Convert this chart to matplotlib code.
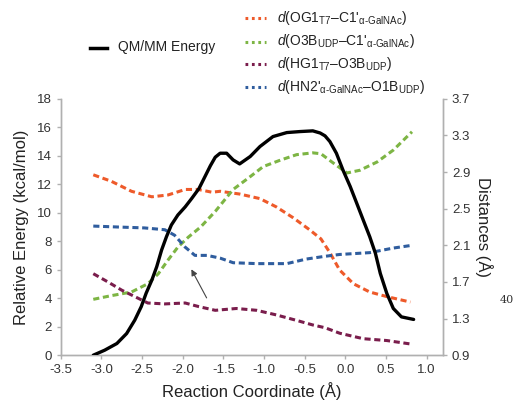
import numpy as np
import matplotlib
matplotlib.use('Agg')
import matplotlib.pyplot as plt
from matplotlib.lines import Line2D

plt.rcParams['font.family'] = ['Liberation Sans', 'DejaVu Sans']
plt.rcParams['mathtext.fontset'] = 'custom'
plt.rcParams['mathtext.rm'] = 'Liberation Sans'
plt.rcParams['mathtext.it'] = 'Liberation Sans:italic'

# QM/MM energy profile (kcal/mol)
x_energy = [-3.10, -2.96, -2.81, -2.69, -2.59, -2.51, -2.45, -2.38, -2.32, -2.26,
            -2.20, -2.14, -2.06, -1.97, -1.89, -1.80, -1.73, -1.66, -1.60, -1.54,
            -1.46, -1.38, -1.30, -1.17, -1.05, -0.89, -0.72, -0.56, -0.40, -0.31,
            -0.25, -0.19, -0.11, -0.03, 0.06, 0.14, 0.22, 0.30, 0.37, 0.43,
            0.51, 0.59, 0.69, 0.84]
energy = [0.0, 0.35, 0.82, 1.52, 2.46, 3.41, 4.35, 5.27, 6.21, 7.38,
          8.32, 9.14, 9.84, 10.41, 11.0, 11.7, 12.5, 13.3, 13.9, 14.18,
          14.18, 13.71, 13.43, 13.95, 14.65, 15.35, 15.63, 15.70, 15.75, 15.6,
          15.4, 15.0, 14.18, 13.01, 11.84, 10.67, 9.49, 8.32, 7.15, 5.74,
          4.34, 3.28, 2.69, 2.51]

# distances (Å)
x_og1 = [-3.10, -2.88, -2.63, -2.38, -2.18, -1.97, -1.81, -1.64, -1.54, -1.30,
         -1.05, -0.85, -0.64, -0.44, -0.30, -0.19, -0.07, 0.10, 0.30, 0.51, 0.80]
d_og1 = [2.87, 2.80, 2.69, 2.63, 2.65, 2.71, 2.71, 2.68, 2.69, 2.66,
         2.61, 2.52, 2.40, 2.27, 2.17, 2.02, 1.83, 1.68, 1.59, 1.54, 1.48]

x_o3b = [-3.10, -2.88, -2.63, -2.43, -2.30, -2.18, -2.06, -1.93, -1.78, -1.60,
         -1.38, -1.17, -1.01, -0.80, -0.60, -0.40, -0.30, -0.15, 0.02, 0.18,
         0.39, 0.59, 0.82]
d_o3b = [1.51, 1.55, 1.59, 1.68, 1.79, 1.94, 2.08, 2.19, 2.30, 2.47,
         2.71, 2.85, 2.96, 3.03, 3.09, 3.11, 3.10, 3.00, 2.89, 2.92,
         3.01, 3.14, 3.34]

x_hg1 = [-3.10, -2.92, -2.75, -2.59, -2.43, -2.22, -1.97, -1.80, -1.60, -1.34,
         -1.09, -0.85, -0.60, -0.40, -0.25, -0.07, 0.22, 0.51, 0.82]
d_hg1 = [1.79, 1.70, 1.61, 1.54, 1.47, 1.46, 1.47, 1.43, 1.39, 1.41,
         1.39, 1.34, 1.28, 1.23, 1.20, 1.14, 1.08, 1.06, 1.02]

x_hn2 = [-3.10, -2.80, -2.47, -2.22, -2.10, -1.97, -1.85, -1.70, -1.54, -1.38,
         -1.09, -0.72, -0.48, -0.25, -0.07, 0.30, 0.59, 0.82]
d_hn2 = [2.31, 2.30, 2.29, 2.27, 2.21, 2.08, 1.99, 1.99, 1.96, 1.91,
         1.90, 1.90, 1.95, 1.98, 2.00, 2.02, 2.07, 2.10]

c_og1 = '#ee5a2a'
c_o3b = '#7db544'
c_hg1 = '#7a1d4c'
c_hn2 = '#2f5d9e'

fig = plt.figure(figsize=(5.15, 4.05), dpi=100)
ax = fig.add_axes([0.118, 0.123, 0.742, 0.633])
ax2 = ax.twinx()

dash = (2.0, 1.2)
for xs, ys, c in [(x_og1, d_og1, c_og1), (x_o3b, d_o3b, c_o3b),
                  (x_hg1, d_hg1, c_hg1), (x_hn2, d_hn2, c_hn2)]:
    ax2.plot(xs, ys, color=c, lw=2.2, dashes=dash)

ax.plot(x_energy, energy, color='black', lw=2.4, zorder=5,
        solid_joinstyle='round', solid_capstyle='round')
ax.set_zorder(ax2.get_zorder() + 1)
ax.patch.set_visible(False)

ax.annotate('', xy=(-1.91, 6.2), xytext=(-1.69, 3.85),
            arrowprops=dict(arrowstyle='-|>', color='#444444', lw=0.8,
                            mutation_scale=9))

ax.set_xlim(-3.5, 1.2)
ax.set_ylim(0, 18)
ax2.set_ylim(0.9, 3.7)
ax.set_xticks(np.arange(-3.5, 1.01, 0.5))
ax.set_xticklabels([f'{v:.1f}' for v in np.arange(-3.5, 1.01, 0.5)])
ax.set_yticks(np.arange(0, 19, 2))
ax2.set_yticks(np.arange(0.9, 3.71, 0.4))
ax2.set_yticklabels([f'{v:.1f}' for v in np.arange(0.9, 3.71, 0.4)])

for a in (ax, ax2):
    for s in a.spines.values():
        s.set_color('#b0b0b0')
        s.set_linewidth(1.0)
    a.spines['top'].set_visible(False)
    a.tick_params(colors='#b0b0b0', labelcolor='#333333', labelsize=9.5,
                  length=3, width=1.0)

ax.set_xlabel('Reaction Coordinate (Å)', fontsize=12, color='#222222', labelpad=4)
ax.set_ylabel('Relative Energy (kcal/mol)', fontsize=12, color='#222222', labelpad=6)
ax2.set_ylabel('Distances (Å)', fontsize=12, color='#222222', rotation=270,
               labelpad=16)

# legend built by hand
fig.add_artist(Line2D([90 / 515, 107 / 515], [1 - 47.5 / 405] * 2,
                      color='black', lw=2.5, transform=fig.transFigure))
fig.text(118 / 515, 1 - 47.5 / 405, 'QM/MM Energy', fontsize=10,
         va='center', ha='left', color='#222222')

labels = [
    r"$d$(OG1$_{\mathrm{T7}}$–C1'$_{\mathrm{\alpha\text{-}GalNAc}}$)",
    r"$d$(O3B$_{\mathrm{UDP}}$–C1'$_{\mathrm{\alpha\text{-}GalNAc}}$)",
    r"$d$(HG1$_{\mathrm{T7}}$–O3B$_{\mathrm{UDP}}$)",
    r"$d$(HN2'$_{\mathrm{\alpha\text{-}GalNAc}}$–O1B$_{\mathrm{UDP}}$)",
]
rows = [18, 41.5, 64, 87]
for lab, c, yy in zip(labels, [c_og1, c_o3b, c_hg1, c_hn2], rows):
    fig.add_artist(Line2D([245 / 515, 266 / 515], [1 - yy / 405] * 2,
                          color=c, lw=2.2, dashes=(0.9, 1.2),
                          transform=fig.transFigure))
    fig.text(277 / 515, 1 - yy / 405, lab, fontsize=10, va='center',
             ha='left', color='#222222')

fig.text(500 / 515, 1 - 300 / 405, '40', fontsize=8, family='DejaVu Serif',
         va='center', ha='left', color='#333333')

fig.savefig('out.png', dpi=100)
